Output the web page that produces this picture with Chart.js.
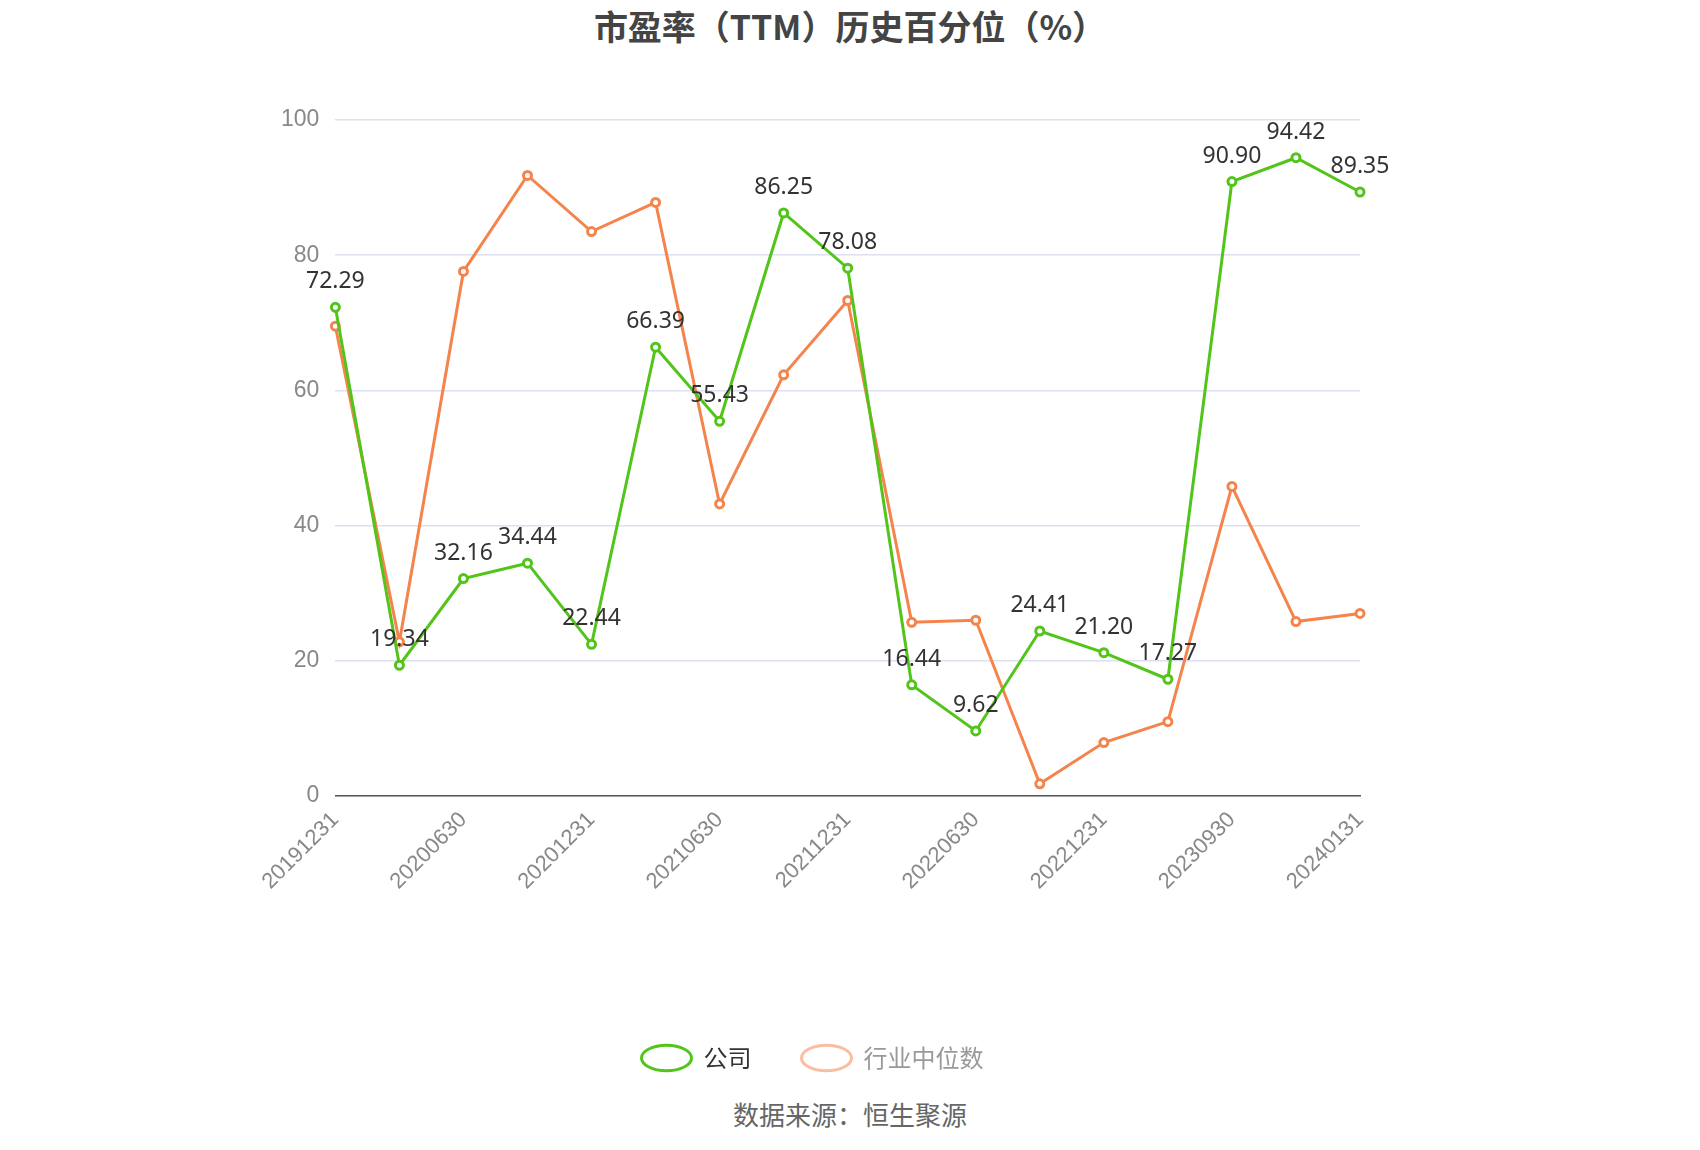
<!DOCTYPE html>
<html>
<head>
<meta charset="utf-8">
<script src="https://cdn.jsdelivr.net/npm/chart.js@4"></script>
<style>
  body { margin: 0; background: #fff; font-family: "Noto Sans CJK SC", "Noto Sans", sans-serif; }
  #wrap { position: relative; width: 1700px; height: 1150px; }
  h1 { position: absolute; top: 0; left: 0; width: 1700px; margin: 0; text-align: center;
       font-size: 34px; line-height: 52px; color: #444; font-weight: bold; }
  #source { position: absolute; top: 1095px; left: 0; width: 1700px; text-align: center;
            font-size: 26px; color: #666; }
  canvas { position: absolute; top: 60px; left: 0; }
</style>
</head>
<body>
<div id="wrap">
  <h1>市盈率（TTM）历史百分位（%）</h1>
  <canvas id="c" width="1700" height="1030"></canvas>
  <div id="source">数据来源：恒生聚源</div>
</div>
<script>
const dates = ["20191231", "20200331", "20200630", "20200930", "20201231", "20210331",
  "20210630", "20210930", "20211231", "20220331", "20220630", "20220930", "20221231",
  "20230630", "20230930", "20231231", "20240131"];
const company = [72.29, 19.34, 32.16, 34.44, 22.44, 66.39, 55.43, 86.25, 78.08, 16.44,
  9.62, 24.41, 21.20, 17.27, 90.90, 94.42, 89.35];
const industry = [69.5, 22.8, 77.6, 91.8, 83.5, 87.8, 43.2, 62.3, 73.3, 25.7, 26.0,
  1.8, 7.9, 11.0, 45.8, 25.8, 27.0];
const yTicks = [0, 20, 40, 60, 80, 100];

const valueLabels = {
  id: "valueLabels",
  afterDatasetsDraw(chart) {
    const ctx = chart.ctx;
    const meta = chart.getDatasetMeta(0);
    ctx.save();
    ctx.font = "23px 'Noto Sans', sans-serif";
    ctx.fillStyle = "#333";
    ctx.textAlign = "center";
    ctx.textBaseline = "bottom";
    meta.data.forEach((pt, i) => {
      ctx.fillText(company[i].toFixed(2), pt.x, pt.y - 14);
    });
    ctx.restore();
  }
};

new Chart(document.getElementById("c"), {
  type: "line",
  data: {
    labels: dates,
    datasets: [
      {
        label: "公司",
        data: company,
        borderColor: "#52c41a",
        backgroundColor: "#fff",
        borderWidth: 3,
        pointRadius: 4,
        pointBorderWidth: 3,
        tension: 0,
      },
      {
        label: "行业中位数",
        data: industry,
        borderColor: "#f5844c",
        backgroundColor: "#fff",
        borderWidth: 3,
        pointRadius: 4,
        pointBorderWidth: 3,
        tension: 0,
      },
    ],
  },
  options: {
    responsive: false,
    animation: false,
    layout: { padding: { left: 265, right: 340, top: 60, bottom: 10 } },
    plugins: {
      title: { display: false },
      tooltip: { enabled: false },
      legend: {
        position: "bottom",
        labels: {
          font: { size: 24, family: "'Noto Sans CJK SC', sans-serif" },
          padding: 50,
          generateLabels(chart) {
            return chart.data.datasets.map((ds, i) => ({
              text: ds.label,
              fillStyle: "#fff",
              strokeStyle: i === 0 ? "#52c41a" : "#fbbd9f",
              fontColor: i === 0 ? "#333" : "#999",
              lineWidth: 3,
              pointStyle: "circle",
              datasetIndex: i,
            }));
          },
          usePointStyle: true,
          pointStyleWidth: 50,
          boxHeight: 18,
        },
      },
    },
    scales: {
      x: {
        grid: { display: false, drawTicks: true },
        border: { color: "#555", width: 1.5 },
        ticks: {
          autoSkip: false,
          maxRotation: 45,
          minRotation: 45,
          color: "#888",
          font: { size: 22 },
          callback: (v, i) => (i % 2 === 0 ? dates[i] : ""),
        },
        afterFit(scale) { scale.height = 200; },
      },
      y: {
        min: 0,
        max: 100,
        afterBuildTicks(scale) { scale.ticks = yTicks.map(v => ({ value: v })); },
        grid: { color: "#dde0ee", lineWidth: 1.5, drawTicks: false },
        border: { display: false },
        ticks: { color: "#888", font: { size: 23 }, padding: 16 },
      },
    },
  },
  plugins: [valueLabels],
});
</script>
</body>
</html>
